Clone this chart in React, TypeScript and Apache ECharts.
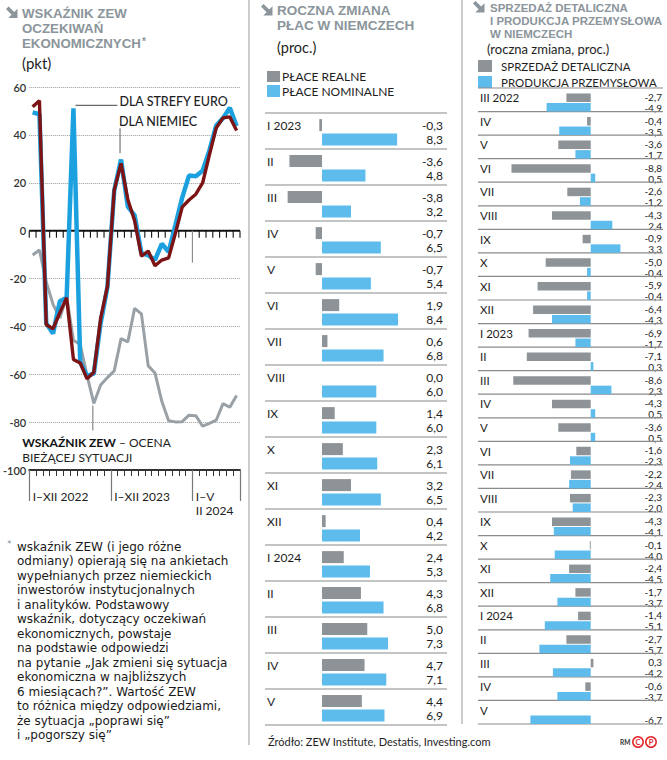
import React, { useEffect, useRef } from "react";
import * as echarts from "echarts";

const FONT = "Lato, 'Noto Sans', sans-serif";
const NOTE_FONT = "'DejaVu Sans', 'Liberation Sans', sans-serif";
const TITLE_FONT = "'Liberation Sans', Arial, sans-serif";
const TITLE_GRAY = "#8b959b";
const INK = "#1e1e1e";

// ---------- Panel 1: ZEW indicator ----------
const zewMonths = [
  "I 2022", "II 2022", "III 2022", "IV 2022", "V 2022", "VI 2022", "VII 2022", "VIII 2022", "IX 2022", "X 2022", "XI 2022", "XII 2022",
  "I 2023", "II 2023", "III 2023", "IV 2023", "V 2023", "VI 2023", "VII 2023", "VIII 2023", "IX 2023", "X 2023", "XI 2023", "XII 2023",
  "I 2024", "II 2024", "III 2024", "IV 2024", "V 2024", "VI 2024", "VII 2024",
];
const zewEuroExpect = [
  49.4, 48.6, -38.7, -43.0, -29.5, -28.0, 51.1, -54.9, -60.7, -59.7, -38.7, -23.6,
  16.7, 29.7, 10.0, 6.4, -9.4, -10.3, -12.2, -5.5, -8.9, 2.3, 13.8, 23.0,
  22.7, 25.0, 33.5, 43.9, 47.0, 51.3, 43.7,
];
const zewGermanyExpect = [
  51.7, 54.3, -39.3, -41.0, -34.3, -28.0, -53.8, -55.3, -61.9, -59.2, -36.7, -23.3,
  16.9, 28.1, 13.0, 4.1, -10.7, -8.5, -14.7, -12.3, -11.4, -1.1, 9.8, 12.8,
  15.2, 19.9, 31.7, 42.9, 47.1, 47.5, 41.8,
];
const zewGermanyCurrent = [
  -10.2, -8.1, -21.4, -30.8, -36.5, -27.6, -45.8, -47.6, -60.5, -72.2, -64.5, -61.4,
  -58.6, -45.1, -46.5, -32.5, -34.8, -56.5, -59.5, -71.3, -79.4, -79.9, -79.8, -77.1,
  -77.3, -81.7, -80.5, -79.2, -72.3, -73.8, -68.9,
];
const zewPeriodLabels = ["I–XII 2022", "I–XII 2023", "I–V\nII 2024"];
const zewAnnotations = ["DLA STREFY EURO", "DLA NIEMIEC"];
const zeroLongTickIndex = 24;

// ---------- Panel 2: wages ----------
const wageMonths = ["I 2023", "II", "III", "IV", "V", "VI", "VII", "VIII", "IX", "X", "XI", "XII", "I 2024", "II", "III", "IV", "V"];
const realWages = [-0.3, -3.6, -3.8, -0.7, -0.7, 1.9, 0.6, 0.0, 1.4, 2.3, 3.2, 0.4, 2.4, 4.3, 5.0, 4.7, 4.4];
const nominalWages = [8.3, 4.8, 3.2, 6.5, 5.4, 8.4, 6.8, 6.0, 6.0, 6.1, 6.5, 4.2, 5.3, 6.8, 7.3, 7.1, 6.9];

// ---------- Panel 3: retail sales & industrial production ----------
const rpMonths = [
  "III 2022", "IV", "V", "VI", "VII", "VIII", "IX", "X", "XI", "XII",
  "I 2023", "II", "III", "IV", "V", "VI", "VII", "VIII", "IX", "X", "XI", "XII",
  "I 2024", "II", "III", "IV", "V",
];
const retailSales = [
  -2.7, -0.4, -3.6, -8.8, -2.6, -4.3, -0.9, -5.0, -5.9, -6.4,
  -6.9, -7.1, -8.6, -4.3, -3.6, -1.6, -2.2, -2.3, -4.3, -0.1, -2.4, -1.7,
  -1.4, -2.7, 0.3, -0.6, null,
];
const industrialProduction = [
  -4.9, -3.5, -1.7, 0.5, -1.2, 2.4, 3.3, -0.4, -0.4, -4.3,
  -1.7, 0.3, 2.3, 0.5, 0.5, -2.3, -2.4, -2.0, -4.1, -4.0, -4.5, -3.7,
  -5.1, -5.7, -4.2, -3.7, -6.7,
];

const footnoteLines = [
  "wskaźnik ZEW (i jego różne",
  "odmiany) opierają się na ankietach",
  "wypełnianych przez niemieckich",
  "inwestorów instytucjonalnych",
  "i analityków. Podstawowy",
  "wskaźnik, dotyczący oczekiwań",
  "ekonomicznych, powstaje",
  "na podstawie odpowiedzi",
  "na pytanie „Jak zmieni się sytuacja",
  "ekonomiczna w najbliższych",
  "6 miesiącach?”. Wartość ZEW",
  "to różnica między odpowiedziami,",
  "że sytuacja „poprawi się”",
  "i „pogorszy się”",
];

const fmt = (v: any) =>
  v === null || v === undefined || isNaN(v) ? "" : Number(v).toFixed(1).replace(".", ",");

const arrow = (x: number, y: number) => ({
  type: "polygon",
  x,
  y,
  shape: { points: [[0, 2.6], [2.6, 0], [8.2, 5.6], [11.5, 2.3], [11.5, 11.5], [2.3, 11.5], [5.6, 8.2]] },
  style: { fill: TITLE_GRAY },
});

const txt = (text: string, x: number, y: number, o: any = {}) => ({
  type: "text",
  x,
  y,
  style: {
    text,
    fill: o.fill || INK,
    fontFamily: o.family || FONT,
    fontSize: o.size || 12,
    fontWeight: o.weight || "normal",
    align: o.align || "left",
    verticalAlign: o.va || "middle",
    lineHeight: o.lh,
    rich: o.rich,
  },
});

const title = (text: string, x: number, y: number, size: number, rich?: any) =>
  txt(text, x, y, { size, weight: "bold", fill: TITLE_GRAY, family: TITLE_FONT, rich });

const WAGE_BAR = 12;
const WAGE_OFF = WAGE_BAR * 0.6;
const WAGE_SHIFT = 1.3;
const RP_BAR = 8.5;
const RP_OFF = RP_BAR * 0.56;
const RP_SHIFT = 2.7;
const SEP = "#8a8a8a";

function tableRenderer(labels: string[], off: number, valOff: number, shift: number, labelSize: number, valSize: number, valRightPad: number) {
  return (params: any, api: any) => {
    const i = api.value(0);
    const v1 = api.value(1);
    const v2 = api.value(2);
    const cs = params.coordSys;
    const c = api.coord([0, i]);
    const band = api.size([0, 1])[1];
    const top = c[1] - band / 2 - shift;
    const right = cs.x + cs.width;
    const children: any[] = [
      { type: "line", shape: { x1: cs.x, y1: top, x2: right, y2: top }, style: { stroke: SEP, lineWidth: 1.2 } },
      txt(labels[i], cs.x + 2, c[1] - off, { size: labelSize }),
      txt(fmt(v1) + "\n" + fmt(v2), right - valRightPad, c[1], { size: valSize, align: "right", lh: valOff * 2 }),
    ];
    if (i === labels.length - 1) {
      children.push({ type: "line", shape: { x1: cs.x, y1: top + band, x2: right, y2: top + band }, style: { stroke: SEP, lineWidth: 1.2 } });
    }
    return { type: "group", children };
  };
}

export default function App() {
  const ref = useRef<HTMLDivElement>(null);
  useEffect(() => {
    document.body.style.margin = "0";
    const chart = echarts.init(ref.current!, null, { renderer: "svg" });

    const option: any = {
      animation: false,
      backgroundColor: "#ffffff",
      textStyle: { fontFamily: FONT },
      grid: [
        { left: 24, top: 87, width: 216, height: 383 },
        { left: 265, top: 113 + WAGE_SHIFT, width: 182, height: 612 },
        { left: 478, top: 88 + RP_SHIFT, width: 185, height: 636 },
      ],
      xAxis: [
        {
          type: "category", gridIndex: 0, data: zewMonths, position: "bottom", boundaryGap: true,
          axisLine: { show: true, onZero: false, lineStyle: { color: "#333", width: 2 } },
          axisTick: { show: true, length: 6, interval: 0, lineStyle: { color: "#333", width: 1 } },
          axisLabel: { show: false },
          splitLine: { show: false },
        },
        {
          type: "category", gridIndex: 0, data: zewMonths, position: "bottom", boundaryGap: true,
          axisLine: { show: false, onZero: false },
          axisTick: { show: true, length: 31, interval: (i: number) => i % 12 === 0, lineStyle: { color: "#777", width: 1.2 } },
          axisLabel: {
            show: true,
            interval: (i: number) => i % 12 === 0,
            formatter: (_v: string, i: number) => zewPeriodLabels[Math.floor(i / 12)],
            align: "left", margin: 20, fontSize: 12, lineHeight: 13.5, color: INK, fontFamily: FONT,
          },
          splitLine: { show: false },
        },
        { type: "value", gridIndex: 1, min: -6.3, max: 13.81, show: false },
        { type: "value", gridIndex: 2, min: -12.52, max: 8.03, show: false },
      ],
      yAxis: [
        {
          type: "value", gridIndex: 0, min: -100, max: 60, interval: 20,
          axisLine: { show: false, onZero: false }, axisTick: { show: false },
          splitLine: { show: true, lineStyle: { type: "dotted", color: "#999", width: 1 } },
          axisLabel: { show: true, showMinLabel: true, showMaxLabel: true, hideOverlap: false, margin: 3, fontSize: 11, color: "#333", fontWeight: 600, fontFamily: FONT },
        },
        { type: "category", gridIndex: 1, data: wageMonths, inverse: true, show: false },
        { type: "category", gridIndex: 2, data: rpMonths, inverse: true, show: false },
      ],
      series: [
        // zero line with its month ticks, drawn through the axes' scales
        {
          type: "custom", xAxisIndex: 0, yAxisIndex: 0, z: 1, silent: true,
          data: zewMonths.map((_, i) => [i, 0]),
          renderItem: (params: any, api: any) => {
            const i = api.value(0);
            const p = api.coord([i, 0]);
            const cs = params.coordSys;
            const bw = api.size([1, 0])[0];
            const x = p[0] - bw / 2;
            const children: any[] = [
              { type: "line", shape: { x1: x, y1: p[1], x2: x, y2: p[1] + (i === zeroLongTickIndex ? 32 : 7) }, style: { stroke: i === zeroLongTickIndex ? "#888" : "#111", lineWidth: 1.1 } },
            ];
            if (i === 0) {
              children.push({ type: "line", shape: { x1: cs.x, y1: p[1], x2: cs.x + cs.width, y2: p[1] }, style: { stroke: "#111", lineWidth: 2 } });
            }
            if (i === zewMonths.length - 1) {
              children.push({ type: "line", shape: { x1: x + bw, y1: p[1], x2: x + bw, y2: p[1] + 7 }, style: { stroke: "#111", lineWidth: 1.1 } });
            }
            return { type: "group", children };
          },
        },
        { type: "line", xAxisIndex: 0, yAxisIndex: 0, data: zewGermanyCurrent, symbol: "none", z: 2, lineStyle: { color: "#9aa1a6", width: 3 } },
        { type: "line", xAxisIndex: 0, yAxisIndex: 0, data: zewEuroExpect, symbol: "none", z: 3, lineStyle: { color: "#1ba0e0", width: 4.5 } },
        { type: "line", xAxisIndex: 0, yAxisIndex: 0, data: zewGermanyExpect, symbol: "none", z: 4, lineStyle: { color: "#7c1315", width: 3.4 } },
        {
          type: "custom", xAxisIndex: 0, yAxisIndex: 0, z: 5, silent: true,
          data: [[6, zewEuroExpect[6], 0], [13, zewGermanyExpect[13], 1], [9, zewGermanyCurrent[9], 2]],
          renderItem: (params: any, api: any) => {
            const idx = api.value(0);
            const kind = api.value(2);
            const p = api.coord([idx, api.value(1)]);
            const cs = params.coordSys;
            if (kind === 0) {
              return { type: "group", children: [
                { type: "line", shape: { x1: p[0] + 2, y1: p[1] - 3, x2: p[0] + 44, y2: p[1] - 3 }, style: { stroke: "#444", lineWidth: 1 } },
                txt(zewAnnotations[0], p[0] + 46, p[1] - 6.5, { size: 12.5, weight: 500 }),
              ] };
            }
            if (kind === 1) {
              return { type: "group", children: [
                { type: "line", shape: { x1: p[0] - 1, y1: p[1] - 10, x2: p[0] - 1, y2: p[1] - 35 }, style: { stroke: "#777", lineWidth: 1.2 } },
                txt(zewAnnotations[1], p[0] - 2, p[1] - 41.5, { size: 12.5, weight: 500 }),
              ] };
            }
            return { type: "group", children: [
              { type: "line", shape: { x1: p[0] - 1, y1: p[1] + 2, x2: p[0] - 1, y2: p[1] + 27 }, style: { stroke: "#888", lineWidth: 1.2 } },
              {
                type: "text", x: cs.x - 7, y: p[1] + 32,
                style: {
                  text: "{b|WSKAŹNIK ZEW} – OCENA\nBIEŻĄCEJ SYTUACJI",
                  fill: INK, fontFamily: FONT, fontSize: 12, lineHeight: 14.5, verticalAlign: "top",
                  rich: { b: { fontWeight: "bold", fontSize: 12, fontFamily: FONT, fill: "#111" } },
                },
              },
            ] };
          },
        },
        // wages
        { type: "bar", xAxisIndex: 2, yAxisIndex: 1, data: realWages, barWidth: WAGE_BAR, barGap: "20%", itemStyle: { color: "#8d9397" } },
        { type: "bar", xAxisIndex: 2, yAxisIndex: 1, data: nominalWages, barWidth: WAGE_BAR, barGap: "20%", itemStyle: { color: "#5ebcec" } },
        {
          type: "custom", xAxisIndex: 2, yAxisIndex: 1, z: 1, silent: true, encode: { x: 1, y: 0 },
          data: wageMonths.map((_, i) => [i, realWages[i], nominalWages[i]]),
          renderItem: tableRenderer(wageMonths, WAGE_OFF, WAGE_OFF, WAGE_SHIFT, 12, 12, 4),
        },
        // retail & production
        { type: "bar", xAxisIndex: 3, yAxisIndex: 2, data: retailSales, barWidth: RP_BAR, barGap: "12%", itemStyle: { color: "#8d9397" } },
        { type: "bar", xAxisIndex: 3, yAxisIndex: 2, data: industrialProduction, barWidth: RP_BAR, barGap: "12%", itemStyle: { color: "#5ebcec" } },
        {
          type: "custom", xAxisIndex: 3, yAxisIndex: 2, z: 1, silent: true, encode: { x: 1, y: 0 },
          data: rpMonths.map((_, i) => [i, retailSales[i] === null ? NaN : retailSales[i], industrialProduction[i]]),
          renderItem: tableRenderer(rpMonths, RP_OFF, 5.5, RP_SHIFT, 11.5, 10, 1),
        },
      ],
      graphic: [
        // separators
        { type: "line", shape: { x1: 249, y1: 0, x2: 249, y2: 745 }, style: { stroke: "#9a9a9a", lineWidth: 1 } },
        { type: "line", shape: { x1: 462, y1: 0, x2: 462, y2: 724 }, style: { stroke: "#9a9a9a", lineWidth: 1 } },
        // panel 1 title
        arrow(6, 6.5),
        title("WSKAŹNIK ZEW", 22, 13, 13.3),
        title("OCZEKIWAŃ", 22, 28, 13.3),
        title("EKONOMICZNYCH{s|*}", 22, 43, 13.3, {
          s: { fontSize: 10, verticalAlign: "top", fill: TITLE_GRAY, fontFamily: TITLE_FONT, fontWeight: "bold", padding: [0, 0, 3, 1] },
        }),
        txt("(pkt)", 22, 63, { size: 15 }),
        // footnote
        txt("*", 7, 544, { size: 11, fill: TITLE_GRAY }),
        txt(footnoteLines.join("\n"), 17, 539.5, { size: 12, va: "top", lh: 14.5, family: NOTE_FONT, fill: "#1a1a1a" }),
        // panel 2 title
        arrow(261, 4),
        title("ROCZNA ZMIANA", 277, 10.5, 13.5),
        title("PŁAC W NIEMCZECH", 277, 25.5, 13.5),
        txt("(proc.)", 277, 47, { size: 14.5 }),
        { type: "rect", shape: { x: 267, y: 71, width: 13, height: 11 }, style: { fill: "#8d9397" } },
        txt("PŁACE REALNE", 282, 76.5, { size: 12 }),
        { type: "rect", shape: { x: 267, y: 85, width: 13, height: 12 }, style: { fill: "#5ebcec" } },
        txt("PŁACE NOMINALNE", 282, 91, { size: 12 }),
        // panel 3 title
        arrow(473, 1),
        title("SPRZEDAŻ DETALICZNA", 490, 7.5, 11.5),
        title("I PRODUKCJA PRZEMYSŁOWA", 490, 21, 11.5),
        title("W NIEMCZECH", 490, 34, 11.5),
        txt("(roczna zmiana, proc.)", 487, 49, { size: 13 }),
        { type: "rect", shape: { x: 478, y: 60, width: 14, height: 12 }, style: { fill: "#8d9397" } },
        txt("SPRZEDAŻ DETALICZNA", 501, 66.5, { size: 11.5 }),
        { type: "rect", shape: { x: 478, y: 76, width: 14, height: 12 }, style: { fill: "#5ebcec" } },
        txt("PRODUKCJA PRZEMYSŁOWA", 501, 82, { size: 11.5 }),
        // source
        txt("Źródło: ZEW Institute, Destatis, Investing.com", 268, 741, { size: 11 }),
        txt("RM", 620, 742, { size: 6.5, weight: "bold", fill: "#333" }),
        { type: "circle", shape: { cx: 638, cy: 742, r: 5.2 }, style: { fill: "none", stroke: "#e3262b", lineWidth: 1.5 } },
        txt("C", 638, 742.5, { size: 7.5, weight: "bold", fill: "#e3262b", align: "center" }),
        { type: "circle", shape: { cx: 651, cy: 742, r: 5.2 }, style: { fill: "none", stroke: "#e3262b", lineWidth: 1.5 } },
        txt("P", 651, 742.5, { size: 7.5, weight: "bold", fill: "#e3262b", align: "center" }),
      ],
    };

    chart.setOption(option);
    return () => chart.dispose();
  }, []);

  return <div ref={ref} style={{ width: 667, height: 760 }} />;
}
